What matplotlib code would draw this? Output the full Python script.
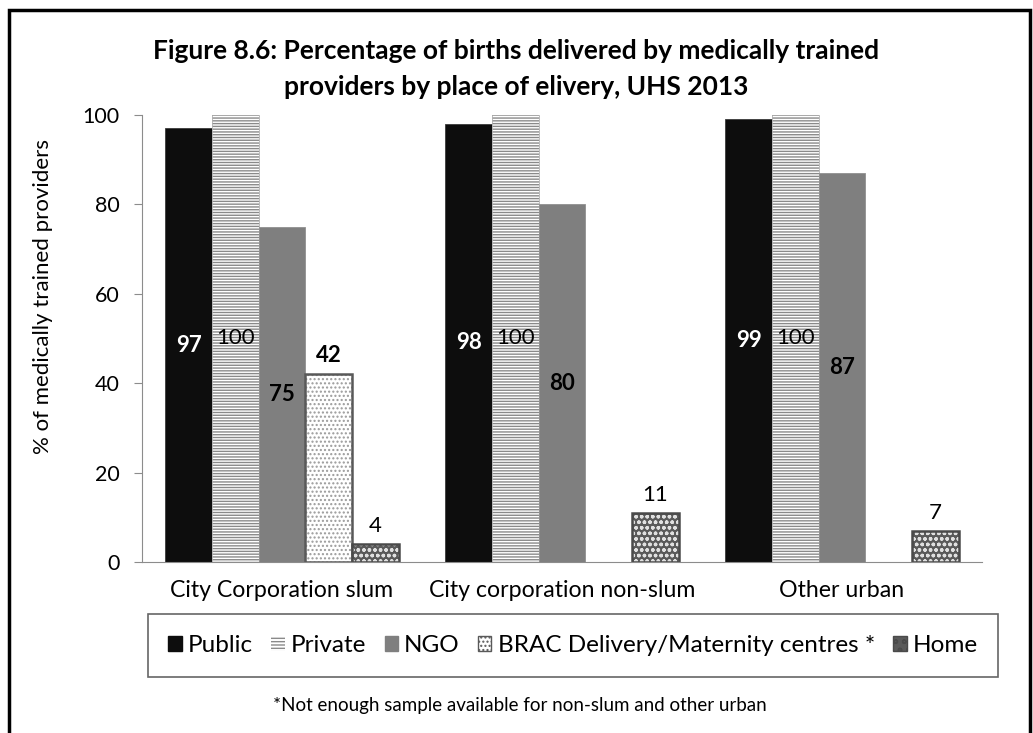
#!/usr/bin/env python3

import numpy as np
import matplotlib
matplotlib.use('Agg')
import matplotlib.pyplot as plt
from matplotlib.patches import Patch, Rectangle

categories = ['City Corporation slum', 'City corporation non-slum', 'Other urban']
series_names = ['Public', 'Private', 'NGO', 'BRAC Delivery/Maternity centres *', 'Home']
public = [97, 98, 99]
private = [100, 100, 100]
ngo = [75, 80, 87]
brac = [42, np.nan, np.nan]
home = [4, 11, 7]

plt.rcParams['font.family'] = ['Lato', 'DejaVu Sans']
plt.rcParams['hatch.linewidth'] = 1.0


def plot_results():
	fig = plt.figure(figsize=(10.33, 7.33), dpi=100)
	ax = fig.add_axes([0.1375, 0.2333, 0.8131, 0.6098])

	x = np.arange(len(categories))
	w = 1.0 / 6

	# public and NGO are plain fills, the rest hatched with a separate border
	ax.bar(x - 2 * w, public, w, color='#0d0d0d', edgecolor='#3a3a3a', linewidth=0.6)
	ax.bar(x - w, private, w, color='white', edgecolor='#8a8a8a', hatch='------', linewidth=0)
	ax.bar(x - w, private, w, fill=False, edgecolor='#b0b0b0', linewidth=0.6)
	ax.bar(x, ngo, w, color='#7f7f7f', edgecolor='#909090', linewidth=0.6)
	ax.bar(x + w, brac, w, color='white', edgecolor='#9a9a9a', hatch='....', linewidth=0)
	ax.bar(x + w, brac, w, fill=False, edgecolor='#595959', linewidth=1.8)
	ax.bar(x + 2 * w, home, w, color='#5a5a5a', edgecolor='#e0e0e0', hatch='ooo', linewidth=0)
	ax.bar(x + 2 * w, home, w, fill=False, edgecolor='#4a4a4a', linewidth=1.8)

	# labels
	for i in range(len(categories)):
		ax.text(x[i] - 2 * w, public[i] / 2, str(public[i]), ha='center', va='center',
			color='white', fontsize=16, fontweight='bold')
		ax.text(x[i] - w, private[i] / 2, str(private[i]), ha='center', va='center',
			color='black', fontsize=16)
		ax.text(x[i], ngo[i] / 2, str(ngo[i]), ha='center', va='center',
			color='black', fontsize=16, fontweight='bold')
		if not np.isnan(brac[i]):
			ax.text(x[i] + w, brac[i] + 1.8, str(int(brac[i])), ha='center', va='bottom',
				color='black', fontsize=16, fontweight='bold')
		ax.text(x[i] + 2 * w, home[i] + 1.8, str(home[i]), ha='center', va='bottom',
			color='black', fontsize=16)

	ax.set_xlim(-0.5, 2.5)
	ax.set_ylim(0, 100)
	ax.set_yticks([0, 20, 40, 60, 80, 100])
	ax.set_xticks(x)
	ax.set_xticklabels(categories, fontsize=16.7)
	ax.tick_params(axis='x', length=0, pad=13)
	ax.tick_params(axis='y', direction='out', length=6, color='#8c8c8c', labelsize=15.5, pad=10)
	for s in ['top', 'right']:
		ax.spines[s].set_visible(False)
	ax.spines['left'].set_color('#8c8c8c')
	ax.spines['bottom'].set_color('#8c8c8c')
	ax.set_ylabel('% of medically trained providers', fontsize=16)
	ax.yaxis.set_label_coords(-0.106, 0.593)

	fig.text(0.5, 0.947, 'Figure 8.6: Percentage of births delivered by medically trained\nproviders by place of elivery, UHS 2013',
		ha='center', va='top', fontsize=19, fontweight='bold', linespacing=1.62)

	handles = [
		Patch(facecolor='#0d0d0d', edgecolor='#0d0d0d'),
		Patch(facecolor='white', edgecolor='#8a8a8a', hatch='-----', linewidth=0),
		Patch(facecolor='#7f7f7f', edgecolor='#7f7f7f'),
		Patch(facecolor='white', edgecolor='#595959', hatch='....'),
		Patch(facecolor='#5a5a5a', edgecolor='#4a4a4a', hatch='oo'),
	]
	leg = fig.legend(handles, series_names, loc='center', bbox_to_anchor=(0.5547, 0.1194),
		ncol=5, fontsize=17.5, frameon=True, fancybox=False, handlelength=0.55,
		handleheight=0.55, handletextpad=0.25, columnspacing=0.76, borderpad=0.85)
	leg.get_frame().set_edgecolor('#404040')
	leg.get_frame().set_linewidth(1.2)

	fig.text(0.503, 0.038, '*Not enough sample available for non-slum and other urban',
		ha='center', va='center', fontsize=13.5)

	# outer frame
	fig.patches.append(Rectangle((0.009, -0.05), 0.988, 1.036, transform=fig.transFigure,
		fill=False, edgecolor='black', linewidth=2.5, clip_on=False))

	fig.savefig('out.png', dpi=100)


if __name__ == '__main__':
	plot_results()
